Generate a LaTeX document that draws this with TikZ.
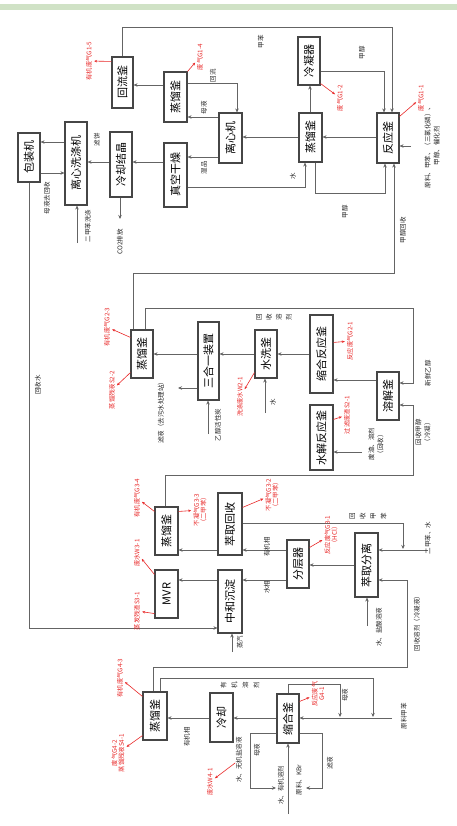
\documentclass[tikz,border=0pt]{standalone}
\usepackage{fontspec}
\setmainfont{Noto Sans CJK SC}
\usetikzlibrary{arrows.meta}
\definecolor{ln}{RGB}{100,100,100}
\definecolor{bxc}{RGB}{70,70,70}
\definecolor{rd}{RGB}{232,40,40}
\definecolor{gbar}{RGB}{208,226,198}
\tikzset{
 box/.style={draw=bxc, line width=1.1pt, inner sep=0pt, fill=white, font=\fontsize{11}{12}\selectfont},
 flow/.style={draw=ln, line width=0.9pt, -{Stealth[length=4pt,width=3.5pt]}},
 lbl/.style={rotate=90, font=\fontsize{6.5}{9}\selectfont, inner sep=0.5pt, align=center, text=black!85},
 rlbl/.style={rotate=90, font=\fontsize{6.3}{7.2}\selectfont, inner sep=1pt, align=center, text=rd},
 rarr/.style={draw=rd, line width=0.6pt, shorten >=1pt, -{Stealth[length=3pt,width=2.5pt]}},
}
\newcommand{\mybox}[6]{\node[box,minimum width=#4pt,minimum height=#5pt] (#1) at (#2,#3) {\rotatebox{90}{#6}};}
\begin{document}
\begin{tikzpicture}[x=1pt,y=-1pt]
\useasboundingbox (0,0) rectangle (457,826);
\fill[gbar] (0,4) rectangle (457,10);

% ---------- boxes ----------
\mybox{A}{122.5}{82.5}{21}{51}{回流釜}
\mybox{B}{175.5}{97}{23}{50}{蒸馏釜}
\mybox{C}{309}{61}{22}{48}{冷凝器}
\mybox{D}{310.5}{137.5}{23}{49}{蒸馏釜}
\mybox{E}{388}{138}{22}{50}{反应釜}
\mybox{F}{230.5}{138}{23}{50}{离心机}
\mybox{G}{175.5}{175}{23}{64}{真空干燥}
\mybox{H}{121}{164.5}{22}{65}{冷却结晶}
\mybox{I}{76}{163.5}{22}{83}{离心洗涤机}
\mybox{J}{29}{157.5}{22}{49}{包装机}

\mybox{K}{142}{354}{22}{48}{蒸馏釜}
\mybox{L}{208.5}{361}{21}{78}{三合一装置}
\mybox{M}{266}{354}{22}{48}{水洗釜}
\mybox{N}{321.5}{354}{23}{78}{缩合反应釜}
\mybox{O}{388}{396}{22}{48}{溶解釜}
\mybox{P}{321.5}{437.5}{23}{65}{水解反应釜}

\mybox{Q}{166.5}{531}{23}{48}{蒸馏釜}
\mybox{R}{166.5}{594}{23}{48}{MVR}
\mybox{S}{230}{524}{24}{62}{萃取回收}
\mybox{T}{230}{601.5}{24}{63}{中和沉淀}
\mybox{U}{298}{564}{22}{48}{分层器}
\mybox{V}{366.5}{565}{23}{64}{萃取分离}

\mybox{W}{155}{716}{24}{48}{蒸馏釜}
\mybox{X}{221.5}{717.5}{23}{49}{冷却}
\mybox{Y}{288}{718.5}{22}{49}{缩合釜}

% ---------- free ends ----------
\coordinate (co2a) at (120,219);
\coordinate (in1) at (77,243);
\coordinate (in2) at (411,146);
\coordinate (out1) at (178,388);
\coordinate (in3) at (208,434);
\coordinate (in4) at (265,413);
\coordinate (in5) at (362,452);
\coordinate (j1) at (403,549);
\coordinate (in6) at (428,550);
\coordinate (in7) at (367,626);
\coordinate (in8) at (232,652);
\coordinate (in9) at (392,718);
\coordinate (j2) at (373,717);
\coordinate (j3) at (340,717);
\coordinate (j4) at (276,788);
\coordinate (j5) at (306,788);
\coordinate (in10) at (288,814);

% ---------- connectors: top ----------
\draw[flow] (A.north) |- (392,27) -- (E.north -| 392,0);
\draw[flow] (C.east |- 0,71) -| (E.north -| 384,0);
\draw[flow] (E.west |- 0,137) -- (D.east |- 0,137);
\draw[flow] (D.west |- 0,137) -- (F.east |- 0,137);
\draw[flow] (D.north -| 310,0) -- (C.south -| 310,0);
\draw[flow] (F.west |- 0,117) -- (B.east |- 0,117);
\draw[flow] (B.east |- 0,83) -| (F.north -| 237,0);
\draw[flow] (B.west |- 0,85) -- (A.east |- 0,85);
\draw[flow] (F.west |- 0,157) -- (G.east |- 0,157);
\draw[flow] (G.west |- 0,162) -- (H.east |- 0,162);
\draw[flow] (H.west |- 0,162) -- (I.east |- 0,162);
\draw[flow] (I.west |- 0,142) -- (J.east |- 0,142);
\draw[flow] (J.east |- 0,173) -- (I.west |- 0,173);
\draw[flow] (H.south -| 120,0) -- (co2a);
\draw[flow] (in1) -- (I.south -| 77,0);
\draw[flow] (J.south) |- (T.west |- 0,628);
\draw[flow] (G.east |- 0,187) -| (D.south -| 305,0);
\draw[flow] (D.south -| 315,0) |- (385,193) -- (E.south -| 385,0);
\draw[flow] (in2) -- (E.east |- 0,146);
\draw[flow] (K.north -| 133,0) |- (394,273) -- (E.south -| 394,0);

% ---------- connectors: middle ----------
\draw[flow] (K.north -| 145,0) |- (413,308) |- (O.east |- 0,383);
\draw[flow] (O.west |- 0,380) -- (N.east |- 0,380);
\draw[flow] (N.west |- 0,354) -- (M.east |- 0,354);
\draw[flow] (M.west |- 0,354) -- (L.east |- 0,354);
\draw[flow] (L.west |- 0,354) -- (K.east |- 0,354);
\draw[flow] (L.west |- 0,388) -- (out1);
\draw[flow] (in3) -- (L.south -| 208,0);
\draw[flow] (in4) -- (M.south -| 265,0);
\draw[flow] (Q.north -| 165,0) |- (413,475) |- (O.east |- 0,405);
\draw[flow] (in5) -- (P.east |- 0,452);

% ---------- connectors: lower middle ----------
\draw[flow] (S.west |- 0,550) -- (Q.east |- 0,550);
\draw[flow] (T.west |- 0,580) -- (R.east |- 0,580);
\draw[flow] (U.west |- 0,550) -- (S.east |- 0,550);
\draw[flow] (U.west |- 0,580) -- (T.east |- 0,580);
\draw[flow] (V.west |- 0,565) -- (U.east |- 0,565);
\draw[flow] (S.east |- 0,523) -| (j1);
\draw[flow] (in6) -- (V.east |- 0,550);
\draw[flow] (W.north -| 153,0) |- (407,667) |- (V.east |- 0,580);
\draw[flow] (in7) -- (V.south -| 367,0);
\draw[flow] (in8) -- (T.south -| 232,0);

% ---------- connectors: bottom ----------
\draw[flow] (in9) -- (Y.east |- 0,718);
\draw[flow] (W.north -| 160,0) |- (373,678) -- (j2);
\draw[flow] (Y.north -| 288,0) |- (340,684) -- (j3);
\draw[flow] (Y.west |- 0,718) -- (X.east |- 0,718);
\draw[flow] (X.west |- 0,718) -- (W.east |- 0,718);
\draw[flow] (Y.west |- 0,733) -| (250,788) -- (j4);
\draw[flow] (Y.east |- 0,733) -| (322,788) -- (j5);
\draw[flow] (in10) -- (Y.south -| 288,0);

% ---------- black labels ----------
\node[lbl] (t1) at (261,42) {甲苯};
\node[lbl] (t2) at (362,53) {甲醇};
\node[lbl] (t3) at (213,76) {回流};
\node[lbl] (t4) at (204,108) {母液};
\node[lbl] (t5) at (204,168) {湿品};
\node[lbl] (t6) at (97,140) {滤饼};
\node[lbl] (t7) at (293,176) {水};
\node[lbl] (t8) at (345,212) {甲醇};
\node[lbl] (t9) at (432,146) {原料、甲苯、（三氯化磷）、\\甲醇、催化剂};
\node[lbl] (t10) at (403,230) {甲醇回收};
\node[lbl] (t11) at (120,242) {CO2排放};
\node[lbl] (t12) at (47,198) {母液去回收};
\node[lbl] (t13) at (88,226) {二甲苯洗涤};
\node[lbl] (t14) at (38,385) {回收水};

\node[lbl, font=\fontsize{6.5}{10}\selectfont] (m1) at (274,317) {回\\收\\溶\\剂};
\node[lbl] (m2) at (428,373) {新鲜乙醇};
\node[lbl] (m3) at (161,411) {滤液（去污水处理站）};
\node[lbl] (m4) at (218,425) {乙醇活性炭};
\node[lbl] (m5) at (273,402) {水};
\node[lbl] (m6) at (376,444) {废渣、溶剂\\（回收）};
\node[lbl] (m7) at (423,432) {回收甲醇\\（冷凝）};

\node[lbl, font=\fontsize{6.5}{10.5}\selectfont] (l1) at (368,516) {回\\收\\甲\\苯};
\node[lbl] (l2) at (428,538) {二甲苯、水};
\node[lbl] (l3) at (267,547) {有机相};
\node[lbl] (l4) at (267,587) {水相};
\node[lbl] (l5) at (417,622) {回收溶剂（冷凝液）};
\node[lbl] (l6) at (379,627) {水、盐酸溶液};
\node[lbl] (l7) at (240,642) {蒸汽};

\node[lbl, font=\fontsize{6.5}{11}\selectfont] (b1) at (240,685) {有\\机\\溶\\剂};
\node[lbl] (b2) at (345,695) {母液};
\node[lbl] (b3) at (404,716) {原料甲苯};
\node[lbl] (b4) at (187,737) {有机相};
\node[lbl] (b5) at (239,760) {水、无机盐溶液};
\node[lbl] (b6) at (257,750) {母液};
\node[lbl] (b7) at (281,785) {水、有机溶剂};
\node[lbl] (b8) at (299,780) {原料、KBr};
\node[lbl] (b9) at (330,763) {滤液};

% ---------- red labels ----------
\node[rlbl] (r1) at (89,61) {有机废气G1-5};
\node[rlbl] (r2) at (200,57) {废气G1-4};
\node[rlbl] (r3) at (340,98) {废气G1-2};
\node[rlbl] (r4) at (421,98) {废气G1-1};
\node[rlbl] (r5) at (107,327) {有机废气G2-3};
\node[rlbl] (r6) at (112,390) {蒸馏残液S2-2};
\node[rlbl] (r7) at (240,397) {洗涤废水W2-1};
\node[rlbl] (r8) at (350,341) {反应废气G2-1};
\node[rlbl] (r9) at (347,415) {过滤废渣S2-1};
\node[rlbl] (r10) at (137,498) {有机废气G3-4};
\node[rlbl] (r11) at (200,510) {不凝气G3-3\\（二甲苯）};
\node[rlbl] (r12) at (272,495) {不凝气G3-2\\（二甲苯）};
\node[rlbl] (r13) at (331,535) {反应废气G3-1\\（HCl）};
\node[rlbl] (r14) at (137,553) {废水W3-1};
\node[rlbl] (r15) at (137,611) {蒸发残渣S3-1};
\node[rlbl] (r16) at (120,678) {有机废气G4-3};
\node[rlbl] (r17) at (118,753) {废气G4-2\\蒸馏残液S4-1};
\node[rlbl] (r18) at (318,694) {反应废气\\G4-1};
\node[rlbl] (r19) at (210,782) {废水W4-1};

\draw[rarr] ([yshift=-5pt]A.north west) -- (r1);
\draw[rarr] (B.north east) -- (r2);
\draw[rarr] ([yshift=2pt]C.south east) -- (r3);
\draw[rarr] ([yshift=-4pt]E.north east) -- (r4);
\draw[rarr] ([yshift=-8pt]K.north west) -- (r5);
\draw[rarr] ([yshift=6pt]K.south west) -- (r6);
\draw[rarr] ([yshift=6pt]M.south west) -- (r7);
\draw[rarr] ([yshift=-28pt]N.north east) -- (r8);
\draw[rarr] ([yshift=-15pt]P.north east) -- (r9);
\draw[rarr] ([yshift=-5pt]Q.north west) -- (r10);
\draw[rarr] ([yshift=-5pt]Q.north east) -- (r11);
\draw[rarr] ([yshift=-15pt]S.north east) -- (r12);
\draw[rarr] ([yshift=-8pt]U.north east) -- (r13);
\draw[rarr] ([yshift=-5pt]R.north west) -- (r14);
\draw[rarr] ([yshift=5pt]R.south west) -- (r15);
\draw[rarr] ([yshift=-5pt]W.north west) -- (r16);
\draw[rarr] ([yshift=5pt]W.south west) -- (r17);
\draw[rarr] ([yshift=-8pt]Y.north east) -- (r18);
\draw[rarr] (b5) -- (r19);
\end{tikzpicture}
\end{document}
